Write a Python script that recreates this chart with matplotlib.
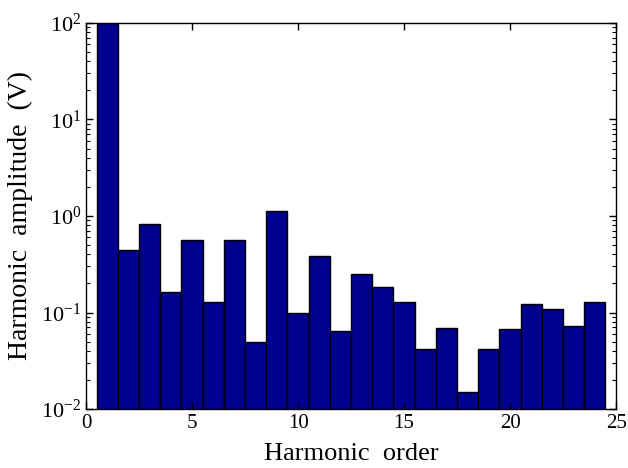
import matplotlib
matplotlib.use('Agg')
import matplotlib.pyplot as plt
import numpy as np
from matplotlib.ticker import LogLocator, FixedLocator

plt.rcParams['font.family'] = ['Liberation Serif', 'DejaVu Serif']
plt.rcParams['mathtext.fontset'] = 'custom'
plt.rcParams['mathtext.rm'] = 'Liberation Serif'
plt.rcParams['mathtext.it'] = 'Liberation Serif:italic'

# harmonic order and amplitudes (V)
orders = list(range(1, 25))
amplitudes = [100, 0.44, 0.82, 0.162, 0.56, 0.129, 0.56, 0.048, 1.13, 0.099,
              0.385, 0.064, 0.247, 0.182, 0.126, 0.041, 0.0686, 0.014, 0.041, 0.067,
              0.122, 0.108, 0.072, 0.126]
x_ticks = [0, 5, 10, 15, 20, 25]
y_ticks = [1e-2, 1e-1, 1e0, 1e1, 1e2]

fig = plt.figure(figsize=(6.28, 4.68), dpi=100)
ax = fig.add_axes([0.137, 0.126, 0.844, 0.825])

ax.bar(orders, amplitudes, width=1.0, color='#00008F', edgecolor='black',
       linewidth=1.0, bottom=1e-3)
ax.set_yscale('log')
ax.set_xlim(0, 25)
ax.set_ylim(1e-2, 1e2)
ax.set_xticks(x_ticks)
ax.set_xticklabels([str(t) for t in x_ticks])
ax.yaxis.set_major_locator(FixedLocator(y_ticks))
ax.set_yticklabels([r'$10^{%d}$' % int(np.log10(t)) for t in y_ticks])
ax.yaxis.set_minor_locator(LogLocator(base=10, subs=np.arange(2, 10), numticks=20))

ax.tick_params(which='both', direction='in', top=True, right=True, labelsize=15)
ax.tick_params(axis='y', labelsize=16)
ax.tick_params(which='major', length=5, width=1)
ax.tick_params(which='minor', length=3, width=0.8)
ax.tick_params(axis='y', which='minor', labelleft=False)
for s in ax.spines.values():
    s.set_linewidth(1.0)

ax.set_xlabel('Harmonic  order', fontsize=19, labelpad=7)
ax.set_ylabel('Harmonic  amplitude  (V)', fontsize=20, labelpad=6)

fig.savefig('out.png', dpi=100)
plt.close(fig)
